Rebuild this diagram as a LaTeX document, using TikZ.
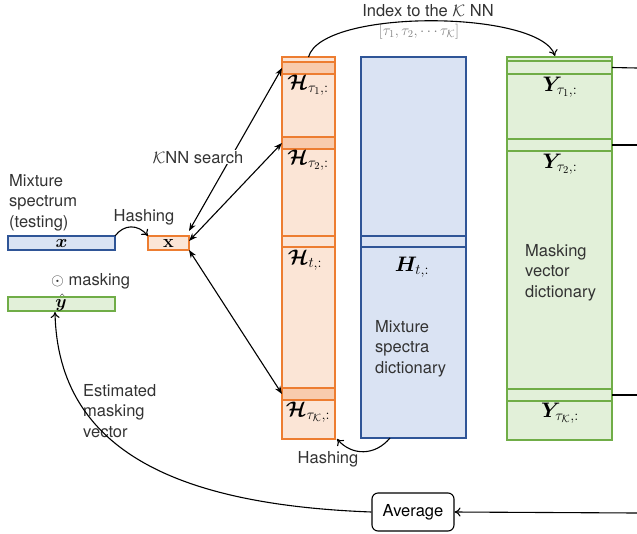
\RequirePackage{fix-cm}
\documentclass[tikz,border=0pt]{standalone}
\usepackage{amsmath,bm}
\usepackage[no-math]{fontspec}
\setmainfont{TeX Gyre Heros}
\usetikzlibrary{arrows.meta,calc}
\definecolor{ofill}{HTML}{FBE5D6}
\definecolor{odark}{HTML}{F8CBAD}
\definecolor{oline}{HTML}{ED7D31}
\definecolor{bfill}{HTML}{DAE3F3}
\definecolor{bline}{HTML}{2F5597}
\definecolor{gfill}{HTML}{E2F0D9}
\definecolor{gline}{HTML}{70AD47}
\definecolor{txt}{HTML}{333333}
\begin{document}
\begin{tikzpicture}[x=1pt,y=-1pt,
  box/.style={inner sep=0pt,outer sep=0pt,anchor=north west,line width=1.3pt},
  obox/.style={box,draw=oline,fill=ofill},
  odbox/.style={box,draw=oline,fill=odark},
  bbox/.style={box,draw=bline,fill=bfill},
  gbox/.style={box,draw=gline,fill=gfill},
  lbl/.style={inner sep=0pt,text=txt,font=\fontsize{16.5}{20.5}\selectfont},
  mlbl/.style={inner sep=0pt,font=\fontsize{21}{24}\selectfont},
  vlbl/.style={inner sep=0pt,font=\fontsize{18}{20}\selectfont},
  conn/.style={line width=1.1pt,black},
  knn/.style={conn,{Stealth[length=8pt,width=6pt]}-{Stealth[length=8pt,width=6pt]}},
  harr/.style={conn,-{To[length=6pt,width=9pt]}}]
\useasboundingbox (0,0) rectangle (637,533);
% orange column
\node[obox,minimum width=53pt,minimum height=382pt] (hcol) at (282,57) {};
\node[odbox,minimum width=53pt,minimum height=12pt] (h1) at (282,62) {};
\node[odbox,minimum width=53pt,minimum height=12pt] (h2) at (282,137) {};
\node[obox,minimum width=53pt,minimum height=11pt] (ht) at (282,236) {};
\node[odbox,minimum width=53pt,minimum height=12pt] (hK) at (282,388) {};
\node[mlbl,anchor=base] (lh1) at (308,89) {$\bm{\mathcal{H}}_{\tau_1,:}$};
\node[mlbl,anchor=base] (lh2) at (308,164) {$\bm{\mathcal{H}}_{\tau_2,:}$};
\node[mlbl,anchor=base] (lht) at (305,264) {$\bm{\mathcal{H}}_{t,:}$};
\node[mlbl,anchor=base] (lhK) at (308,416) {$\bm{\mathcal{H}}_{\tau_{\mathcal{K}},:}$};
% blue column
\node[bbox,minimum width=105pt,minimum height=381pt] (bcol) at (361,57) {};
\node[bbox,minimum width=105pt,minimum height=11pt] (bt) at (361,236) {};
\node[mlbl,anchor=base] (lbt) at (412,271) {$\bm{H}_{t,:}$};
\node[lbl,anchor=base west,align=left] (lbd) at (375,373) {Mixture\\spectra\\dictionary};
% green column
\node[gbox,minimum width=105pt,minimum height=383pt] (gcol) at (507,57) {};
\node[gbox,minimum width=105pt,minimum height=13pt] (g1) at (507,61) {};
\node[gbox,minimum width=105pt,minimum height=12pt] (g2) at (507,139) {};
\node[gbox,minimum width=105pt,minimum height=12pt] (gK) at (507,389) {};
\node[mlbl,anchor=base] (lg1) at (560,91) {$\bm{Y}_{\tau_1,:}$};
\node[mlbl,anchor=base] (lg2) at (560,168) {$\bm{Y}_{\tau_2,:}$};
\node[mlbl,anchor=base] (lgK) at (560,417) {$\bm{Y}_{\tau_{\mathcal{K}},:}$};
\node[lbl,anchor=base west,align=left] (lgd) at (525,297) {Masking\\vector\\dictionary};
% left vectors
\node[bbox,minimum width=107pt,minimum height=14pt] (xb) at (8,236) {};
\node[vlbl] (lxb) at (xb.center) {$\bm{x}$};
\node[obox,minimum width=41pt,minimum height=14pt] (X) at (148,236) {};
\node[vlbl] (lX) at (X.center) {$\mathbf{x}$};
\node[gbox,minimum width=107pt,minimum height=14pt] (yh) at (8,297) {};
\node[vlbl,anchor=base] (lyh) at (61,307) {$\hat{\bm{y}}$};
\node[lbl,anchor=base west,align=left] (lmix) at (9,227) {Mixture\\spectrum\\(testing)};
\node[lbl,anchor=base west] (mask) at (51,285) {$\odot$ masking};
\node[lbl,anchor=base west,align=left] (lest) at (83,437) {Estimated\\masking\\vector};
% average
\node[draw,rounded corners=6pt,line width=1.1pt,minimum width=82pt,minimum height=38pt,inner sep=0pt,lbl,text=black] (avg) at (413,512) {Average};
% labels
\node[lbl,anchor=base,fill=white,inner sep=1pt] (lidx) at (428,16) {Index to the $\mathcal{K}$ NN};
\node[inner sep=0pt,anchor=base,text=gray,font=\fontsize{15}{17}\selectfont] (ltau) at (419,35) {$[\tau_1,\tau_2,\cdots\tau_{\mathcal{K}}]$};
% connectors
\coordinate (gtop) at (555,56);
\draw[harr] (hcol.north) .. controls (322,8) and (540,10) .. (gtop);
\draw[knn] ([yshift=5pt]X.north east) -- (h1.west);
\draw[knn] ([yshift=2pt]X.east) -- (h2.west);
\draw[knn] (X.south east) -- (hK.west);
\node[lbl,anchor=base,fill=white,inner sep=1pt] (lknn) at (198,163) {$\mathcal{K}$NN search};
\draw[harr] (xb.north east) .. controls (124,224) and (138,224) .. (X.north west);
\node[lbl,anchor=base] (lhash1) at (144,221) {Hashing};
\coordinate (bsrc) at (390,438);
\draw[harr] (bsrc) .. controls (375,456) and (352,456) .. ([xshift=2pt]hcol.south east);
\node[lbl,anchor=base] (lhash2) at (328,463) {Hashing};
\coordinate (e1) at (637,68);
\coordinate (e2) at (637,145);
\coordinate (e3) at (637,395);
\coordinate (e4) at (637,513);
\draw[conn] (g1.east) -- (e1);
\draw[conn] (g2.east) -- (e2);
\draw[conn] (gK.east) -- (e3);
\draw[harr] (e4) -- (avg.east);
\coordinate (yt) at (55,312);
\draw[harr] (avg.west) .. controls (185,505) and (58,455) .. (yt);
\end{tikzpicture}
\end{document}
